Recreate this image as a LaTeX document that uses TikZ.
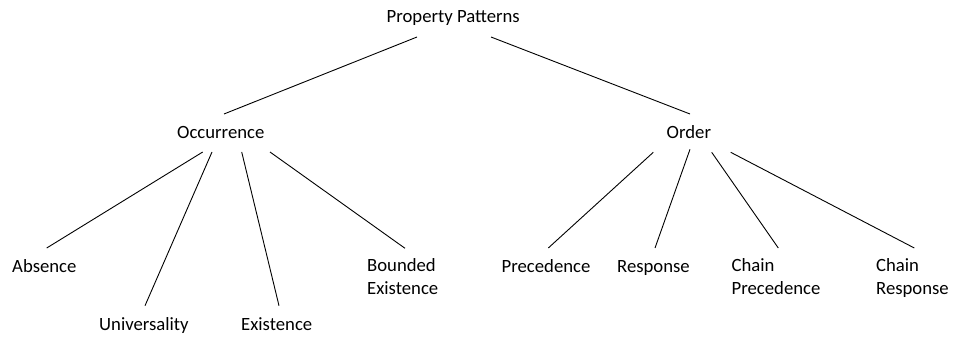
\documentclass[tikz,border=0pt]{standalone}
\usepackage{fontspec}
\setmainfont{Carlito}
\usetikzlibrary{calc}
\begin{document}
\begin{tikzpicture}[x=1pt,y=-1pt,
  lbl/.style={anchor=base west,inner sep=0pt,align=left,font=\fontsize{18.7}{22.4}\selectfont},
  edge/.style={draw=black,line width=0.9pt}]
\useasboundingbox (0,0) rectangle (953,337);

% labels (two-line labels are placed by their last baseline)
\node[lbl] (root) at (386.5,23)   {Property Patterns};
\node[lbl] (occ)  at (177,138.3)  {Occurrence};
\node[lbl] (ord)  at (666.5,138.3){Order};
\node[lbl] (abs)  at (12,272.7)   {Absence};
\node[lbl] (uni)  at (99,330)     {Universality};
\node[lbl] (exi)  at (241,330)    {Existence};
\node[lbl] (bex)  at (367,294)    {Bounded\\Existence};
\node[lbl] (pre)  at (501.5,272.7){Precedence};
\node[lbl] (res)  at (617,272.7)  {Response};
\node[lbl] (cpr)  at (731.5,294)  {Chain\\Precedence};
\node[lbl] (crs)  at (876,294)    {Chain\\Response};

% top level
\draw[edge] ($(root.base west)+(30.5,14)$)  -- ($(occ.base west)+(47,-24.3)$);
\draw[edge] ($(root.base west)+(104.5,14)$) -- ($(ord.base west)+(23.5,-24.3)$);

% occurrence patterns
\draw[edge] ($(occ.base west)+(25.7,13.7)$) -- ($(abs.base west)+(34.7,-24.7)$);
\draw[edge] ($(occ.base west)+(35,13.7)$)   -- ($(uni.base west)+(46,-24.3)$);
\draw[edge] ($(occ.base west)+(64.7,13.7)$) -- ($(exi.base west)+(38,-24.3)$);
\draw[edge] ($(occ.base west)+(93,13.7)$)   -- ($(bex.base west)+(38,-45.7)$);

% order patterns
\draw[edge] ($(ord.base west)+(-13.2,14)$) -- ($(pre.base west)+(46.8,-24.7)$);
\draw[edge] ($(ord.base west)+(23.5,11)$)  -- ($(res.base west)+(38,-24.7)$);
\draw[edge] ($(ord.base west)+(45.2,14)$)  -- ($(cpr.base west)+(46.8,-46)$);
\draw[edge] ($(ord.base west)+(64.2,14)$)  -- ($(crs.base west)+(38.3,-46)$);
\end{tikzpicture}
\end{document}
